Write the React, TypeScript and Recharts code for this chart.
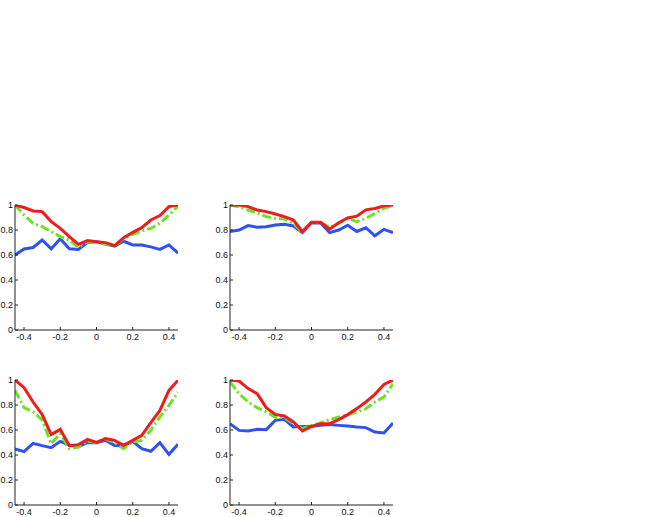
import React from "react";
import { LineChart, Line, XAxis, YAxis } from "recharts";

const xValues = [-0.45, -0.4, -0.35, -0.3, -0.25, -0.2, -0.15, -0.1, -0.05, 0, 0.05, 0.1, 0.15, 0.2, 0.25, 0.3, 0.35, 0.4, 0.45];
const xTicks = [-0.4, -0.2, 0, 0.2, 0.4];
const yTicks = [0, 0.2, 0.4, 0.6, 0.8, 1];

const p1Blue = [0.6, 0.648, 0.66, 0.72, 0.65, 0.73, 0.65, 0.645, 0.7, 0.705, 0.69, 0.67, 0.71, 0.68, 0.68, 0.665, 0.645, 0.68, 0.615];
const p1Red = [1.0, 0.98, 0.952, 0.947, 0.867, 0.813, 0.747, 0.685, 0.715, 0.707, 0.699, 0.675, 0.739, 0.781, 0.819, 0.88, 0.915, 0.987, 1.0];
const p1Green = [1.0, 0.92, 0.853, 0.827, 0.787, 0.747, 0.72, 0.66, 0.705, 0.7, 0.685, 0.67, 0.733, 0.765, 0.792, 0.813, 0.853, 0.92, 0.99];

const p2Blue = [0.787, 0.8, 0.835, 0.822, 0.826, 0.84, 0.845, 0.832, 0.779, 0.856, 0.856, 0.779, 0.8, 0.838, 0.788, 0.818, 0.754, 0.805, 0.779];
const p2Red = [1.0, 1.0, 0.987, 0.96, 0.947, 0.928, 0.907, 0.88, 0.787, 0.862, 0.862, 0.806, 0.858, 0.896, 0.911, 0.961, 0.972, 0.993, 1.0];
const p2Green = [1.0, 0.985, 0.96, 0.936, 0.907, 0.893, 0.888, 0.853, 0.78, 0.86, 0.86, 0.821, 0.853, 0.893, 0.867, 0.893, 0.933, 0.973, 0.995];

const p3Blue = [0.448, 0.427, 0.493, 0.475, 0.459, 0.509, 0.48, 0.467, 0.499, 0.499, 0.517, 0.477, 0.477, 0.509, 0.45, 0.43, 0.499, 0.405, 0.485];
const p3Red = [1.0, 0.939, 0.824, 0.723, 0.563, 0.605, 0.475, 0.483, 0.525, 0.501, 0.531, 0.517, 0.477, 0.517, 0.557, 0.659, 0.757, 0.917, 0.997];
const p3Green = [0.917, 0.779, 0.744, 0.68, 0.49, 0.571, 0.45, 0.464, 0.51, 0.5, 0.53, 0.5, 0.45, 0.504, 0.517, 0.597, 0.704, 0.797, 0.904];

const p4Blue = [0.651, 0.597, 0.592, 0.605, 0.603, 0.677, 0.685, 0.624, 0.629, 0.629, 0.637, 0.643, 0.637, 0.632, 0.624, 0.619, 0.584, 0.576, 0.656];
const p4Red = [1.0, 0.992, 0.931, 0.891, 0.779, 0.725, 0.712, 0.664, 0.592, 0.629, 0.651, 0.651, 0.683, 0.723, 0.771, 0.824, 0.885, 0.965, 1.0];
const p4Green = [0.984, 0.891, 0.824, 0.779, 0.744, 0.704, 0.699, 0.651, 0.611, 0.637, 0.656, 0.683, 0.704, 0.723, 0.744, 0.771, 0.824, 0.864, 0.971];

const BLUE = "#3050f0";
const RED = "#ee1c1c";
const GREEN = "#6ee026";
const AXIS = "#222";

function build(blue: number[], red: number[], green: number[]) {
  return xValues.map((x, i) => ({ x, blue: blue[i], red: red[i], green: green[i] }));
}

const fmtX = (v: number) => (v === 0 ? "0" : String(v));
const fmtY = (v: number) => String(v);

const tickStyle = { fontSize: 9, fill: "#111", fontFamily: "'Liberation Sans', Arial, sans-serif" };

const YW = 25;

function Panel({ left, top, data }: { left: number; top: number; data: any[] }) {
  return (
    <div style={{ position: "absolute", left: left - YW, top: top - 5 }}>
      <LineChart width={YW + 163 + 10} height={145} data={data} margin={{ top: 5, right: 10, left: 0, bottom: 0 }}>
        <XAxis
          dataKey="x"
          type="number"
          domain={[-0.45, 0.45]}
          ticks={xTicks}
          tickFormatter={fmtX}
          tickSize={-3}
          tickMargin={7}
          height={15}
          stroke={AXIS}
          tick={tickStyle}
          interval={0}
          allowDataOverflow
        />
        <XAxis
          xAxisId="top"
          orientation="top"
          type="number"
          domain={[-0.45, 0.45]}
          ticks={xTicks}
          tick={false}
          tickSize={-3}
          height={0}
          stroke={AXIS}
        />
        <YAxis
          type="number"
          domain={[0, 1]}
          ticks={yTicks}
          tickFormatter={fmtY}
          tickSize={-3}
          tickMargin={5}
          width={YW}
          stroke={AXIS}
          tick={tickStyle}
          interval={0}
          allowDataOverflow
        />
        <YAxis
          yAxisId="right"
          orientation="right"
          type="number"
          domain={[0, 1]}
          ticks={yTicks}
          tick={false}
          tickSize={-3}
          width={0}
          stroke={AXIS}
        />
        <Line dataKey="blue" stroke={BLUE} strokeWidth={3} dot={false} isAnimationActive={false} type="linear" />
        <Line dataKey="green" stroke={GREEN} strokeWidth={3} strokeDasharray="9 3 2 3" dot={false} isAnimationActive={false} type="linear" />
        <Line dataKey="red" stroke={RED} strokeWidth={3} dot={false} isAnimationActive={false} type="linear" />
      </LineChart>
    </div>
  );
}

export default function App() {
  return (
    <div style={{ position: "absolute", left: 0, top: 0, width: 650, height: 517, background: "#fff", overflow: "hidden" }}>
      <Panel left={15} top={205} data={build(p1Blue, p1Red, p1Green)} />
      <Panel left={230} top={205} data={build(p2Blue, p2Red, p2Green)} />
      <Panel left={15} top={380} data={build(p3Blue, p3Red, p3Green)} />
      <Panel left={230} top={380} data={build(p4Blue, p4Red, p4Green)} />
    </div>
  );
}
